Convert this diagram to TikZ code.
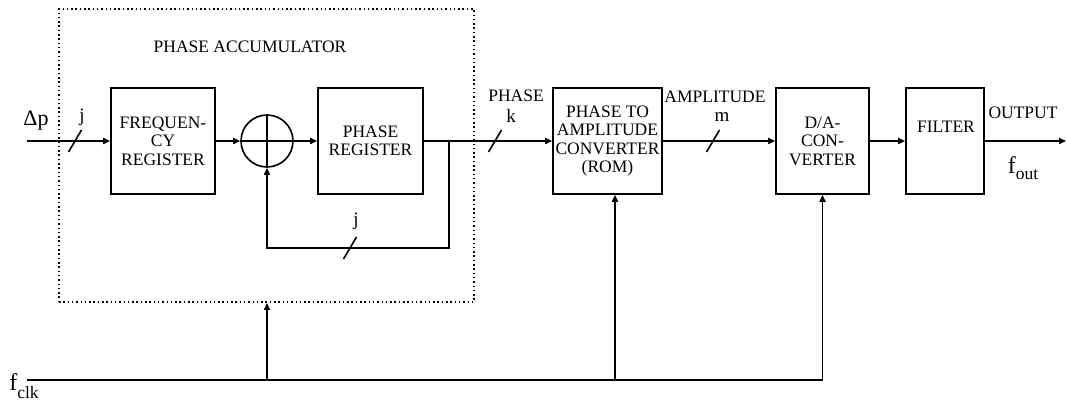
\documentclass[tikz,border=0pt]{standalone}
\usepackage{fontspec}
\setmainfont{Liberation Serif}
\usetikzlibrary{arrows.meta,calc}
\begin{document}
\begin{tikzpicture}[x=1pt,y=-1pt,
  line width=1.6pt,
  blk/.style={draw,line width=1.6pt,rectangle,inner sep=0pt,align=center,font=\fontsize{17.5}{18.5}\selectfont},
  lbl/.style={inner sep=0pt,font=\fontsize{17.5}{18}\selectfont},
  arr/.style={-{Triangle[length=7pt,width=6pt]}},
  dotbox/.style={draw,line width=1.9pt,dash pattern=on 1.5pt off 2.8pt,rectangle,inner sep=0pt}]
\useasboundingbox (0,0) rectangle (1067,403);

% accumulator frame
\node[dotbox,minimum width=415pt,minimum height=293pt] (acc) at (266.5,155.5) {};
\node[lbl] (acclbl) at (250,47) {PHASE ACCUMULATOR};

% blocks
\node[blk,minimum width=104pt,minimum height=106pt] (freq) at (163,141) {FREQUEN-\\CY\\REGISTER};
\node[draw,circle,line width=1.6pt,minimum size=52pt,inner sep=0pt] (add) at (267,141) {};
\draw (add.north) -- (add.south);
\draw (add.west) -- (add.east);
\node[blk,minimum width=105pt,minimum height=106pt] (phreg) at (370.5,141) {PHASE\\REGISTER};
\node[blk,minimum width=109pt,minimum height=106pt] (rom) at (607.5,141) {PHASE TO\\AMPLITUDE\\CONVERTER\\(ROM)};
\node[blk,minimum width=93pt,minimum height=106pt] (dac) at (822.5,141) {D/A-\\CON-\\VERTER};
\node[blk,minimum width=78pt,minimum height=106pt] (filt) at (945,141) {};
\node[lbl] (filtlbl) at (946,127) {FILTER};

% signal path
\coordinate (inp) at (27,141);
\coordinate (tap) at (449,141);
\coordinate (fb) at (267,248);
\coordinate (outp) at (1066,141);
\draw[arr] (inp) -- (freq.west);
\draw[arr] (freq.east) -- (add.west);
\draw[arr] (add.east) -- (phreg.west);
\draw[arr] (phreg.east) -- (rom.west);
\draw[arr] (tap) |- (fb) -- (add.south);
\draw[arr] (rom.east) -- (dac.west);
\draw[arr] (dac.east) -- (filt.west);
\draw[arr] (filt.east) -- (outp);

% clock
\coordinate (clk0) at (27,380);
\coordinate (c1) at (267,380);
\coordinate (c2) at (615,380);
\coordinate (clk1) at (822.5,380);
\draw (clk0) -- (clk1);
\draw[arr] (c1) -- (c1 |- acc.south);
\draw[arr] (c2) -- (c2 |- rom.south);
\draw[arr] (clk1) -- (dac.south);

% bus width marks
\coordinate (s1) at (75,141);
\coordinate (s2) at (350,248);
\coordinate (s3) at (495,141);
\coordinate (s4) at (713,141);
\foreach \s in {s1,s2,s3,s4}
  \draw ([shift={(-6.5,11)}]\s) -- ([shift={(6.5,-11)}]\s);

% labels
\node[lbl,font=\fontsize{22}{22}\selectfont] (dp) at (36,121) {Δp};
\node[lbl,font=\fontsize{19}{19}\selectfont] (j1) at (82,117) {j};
\node[lbl,font=\fontsize{19}{19}\selectfont] (j2) at (356,221) {j};
\node[lbl] (phl) at (516,96) {PHASE};
\node[lbl,font=\fontsize{19}{19}\selectfont] (kl) at (511,116) {k};
\node[lbl] (ampl) at (715,97) {AMPLITUDE};
\node[lbl,font=\fontsize{19}{19}\selectfont] (ml) at (722,117) {m};
\node[lbl] (outl) at (1023,113) {OUTPUT};
\node[lbl] (fout) at (1023,168) {{\fontsize{24}{24}\selectfont f}\raisebox{-6pt}{out}};
\node[lbl] (fclk) at (24,386) {{\fontsize{24}{24}\selectfont f}\raisebox{-8pt}{clk}};
\end{tikzpicture}
\end{document}
